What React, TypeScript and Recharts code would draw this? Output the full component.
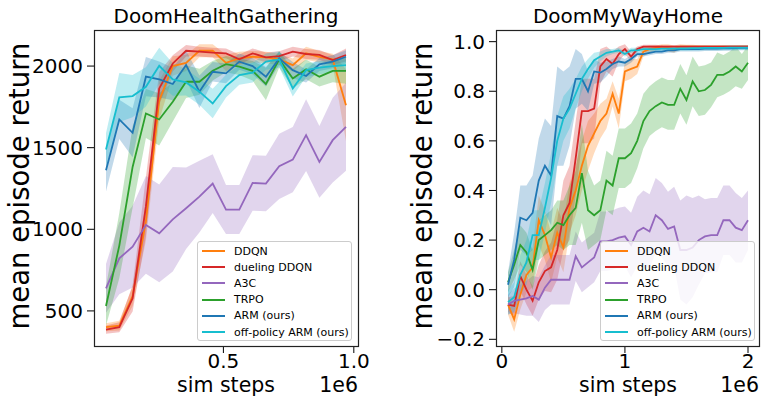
import { Area, ComposedChart, Line, XAxis, YAxis } from 'recharts'

const FONT = '"DejaVu Sans", sans-serif'

const LABELS = ['DDQN', 'dueling DDQN', 'A3C', 'TRPO', 'ARM (ours)', 'off-policy ARM (ours)']
const COLORS = ['#ff7f0e', '#d62728', '#9467bd', '#2ca02c', '#1f77b4', '#17becf']

// DoomHealthGathering (x in 1e6 sim steps)
const HG_X = [0.05, 0.101, 0.152, 0.203, 0.254, 0.306, 0.357, 0.408, 0.459, 0.51, 0.561, 0.612, 0.663, 0.714, 0.766, 0.817, 0.868, 0.919, 0.97]
const HG_DDQN = [400, 410, 590, 1050, 1790, 2000, 2020, 2094, 2094, 2020, 2047, 2057, 2053, 2041, 2006, 2078, 2057, 2041, 1760]
const HG_DUEL = [385, 400, 577, 1140, 1863, 2016, 2094, 2088, 2082, 2078, 2041, 2078, 2053, 2061, 2088, 2074, 2068, 2037, 2068]
const HG_A3C = [638, 822, 894, 1027, 975, 1061, 1129, 1200, 1280, 1121, 1121, 1284, 1280, 1386, 1427, 1577, 1413, 1546, 1628]
const HG_TRPO = [530, 900, 1382, 1710, 1673, 1781, 1904, 1904, 1971, 2012, 1996, 1971, 1890, 2041, 1924, 1980, 1935, 1971, 1971]
const HG_ARM = [1362, 1673, 1591, 1935, 1918, 1890, 2006, 1843, 1965, 1955, 2027, 2000, 1935, 2047, 1975, 1939, 2010, 2027, 2057]
const HG_OFF = [1489, 1808, 1816, 1873, 2002, 1918, 1900, 1843, 1771, 1877, 1945, 1960, 2027, 2041, 1863, 1975, 1990, 2000, 2006]

const HG_DDQN_SD = [25, 30, 60, 120, 120, 60, 50, 40, 40, 50, 40, 35, 35, 35, 40, 40, 35, 35, 220]
const HG_DUEL_SD = [25, 30, 80, 180, 100, 50, 35, 30, 30, 30, 30, 30, 30, 30, 30, 30, 30, 30, 40]
const HG_A3C_SD = [150, 220, 250, 300, 300, 320, 250, 220, 180, 150, 150, 170, 170, 200, 200, 220, 220, 260, 270]
const HG_TRPO_SD = [120, 200, 250, 150, 160, 120, 100, 80, 60, 50, 50, 60, 100, 50, 60, 60, 60, 70, 80]
const HG_ARM_SD = [130, 120, 150, 120, 110, 100, 90, 100, 60, 60, 50, 50, 60, 40, 50, 40, 40, 40, 40]
const HG_OFF_SD = [100, 150, 130, 120, 110, 100, 80, 80, 90, 70, 60, 60, 50, 50, 50, 40, 40, 40, 40]

// DoomMyWayHome
const MW_X = [0.05, 0.1, 0.15, 0.2, 0.25, 0.3, 0.35, 0.4, 0.45, 0.5, 0.55, 0.6, 0.65, 0.7, 0.75, 0.8, 0.85, 0.9, 0.95, 1.0, 1.05, 1.1, 1.15, 1.2, 1.25, 1.3, 1.35, 1.4, 1.45, 1.5, 1.55, 1.6, 1.65, 1.7, 1.75, 1.8, 1.85, 1.9, 1.95, 2.0]
const MW_DDQN = [-0.06, -0.12, -0.02, 0.06, 0.09, 0.28, 0.22, 0.13, 0.23, 0.17, 0.33, 0.4, 0.5, 0.58, 0.63, 0.68, 0.71, 0.79, 0.71, 0.88, 0.89, 0.9, 0.96, 0.97, 0.975, 0.98, 0.975, 0.97, 0.98, 0.98, 0.98, 0.98, 0.98, 0.98, 0.98, 0.98, 0.98, 0.98, 0.98, 0.98]
const MW_DUEL = [-0.06, -0.065, 0.055, 0.0, -0.045, 0.03, 0.075, 0.09, 0.16, 0.3, 0.35, 0.53, 0.72, 0.72, 0.73, 0.9, 0.93, 0.91, 0.95, 0.97, 0.94, 0.97, 0.98, 0.98, 0.98, 0.98, 0.98, 0.98, 0.98, 0.98, 0.98, 0.98, 0.98, 0.98, 0.98, 0.98, 0.98, 0.98, 0.98, 0.98]
const MW_A3C = [-0.06, -0.045, -0.04, -0.035, -0.025, -0.04, 0.008, 0.04, 0.04, 0.04, 0.04, 0.135, 0.09, 0.11, 0.13, 0.195, 0.195, 0.2, 0.21, 0.215, 0.18, 0.235, 0.25, 0.235, 0.3, 0.28, 0.245, 0.255, 0.16, 0.16, 0.17, 0.2, 0.215, 0.22, 0.22, 0.28, 0.28, 0.25, 0.24, 0.28]
const MW_TRPO = [0.03, 0.1, 0.18, 0.15, 0.08, 0.2, 0.22, 0.24, 0.27, 0.26, 0.3, 0.33, 0.47, 0.32, 0.3, 0.32, 0.44, 0.42, 0.53, 0.53, 0.55, 0.6, 0.68, 0.72, 0.74, 0.755, 0.745, 0.745, 0.81, 0.765, 0.84, 0.8, 0.805, 0.826, 0.866, 0.866, 0.88, 0.9, 0.88, 0.915]
const MW_ARM = [0.02, 0.12, 0.29, 0.28, 0.31, 0.44, 0.5, 0.46, 0.7, 0.69, 0.74, 0.85, 0.85, 0.8, 0.88, 0.875, 0.89, 0.91, 0.92, 0.915, 0.93, 0.95, 0.95, 0.955, 0.96, 0.96, 0.965, 0.965, 0.97, 0.97, 0.97, 0.97, 0.972, 0.972, 0.972, 0.973, 0.973, 0.974, 0.975, 0.975]
const MW_OFF = [-0.05, -0.03, 0.06, 0.11, 0.22, 0.22, 0.33, 0.45, 0.6, 0.69, 0.73, 0.79, 0.85, 0.89, 0.925, 0.94, 0.955, 0.96, 0.965, 0.95, 0.965, 0.965, 0.97, 0.97, 0.97, 0.972, 0.972, 0.972, 0.973, 0.973, 0.974, 0.974, 0.975, 0.975, 0.975, 0.975, 0.976, 0.976, 0.976, 0.976]

const MW_DDQN_SD = [0.04, 0.05, 0.06, 0.07, 0.08, 0.1, 0.1, 0.1, 0.1, 0.1, 0.1, 0.1, 0.1, 0.1, 0.08, 0.07, 0.06, 0.05, 0.06, 0.04, 0.04, 0.03, 0.02, 0.015, 0.01, 0.01, 0.015, 0.015, 0.01, 0.008, 0.008, 0.006, 0.006, 0.005, 0.005, 0.005, 0.005, 0.005, 0.005, 0.005]
const MW_DUEL_SD = [0.03, 0.04, 0.06, 0.06, 0.06, 0.07, 0.08, 0.1, 0.12, 0.14, 0.15, 0.15, 0.13, 0.13, 0.12, 0.07, 0.05, 0.05, 0.03, 0.02, 0.02, 0.01, 0.008, 0.008, 0.008, 0.006, 0.006, 0.006, 0.005, 0.005, 0.005, 0.005, 0.005, 0.005, 0.005, 0.005, 0.005, 0.005, 0.005, 0.005]
const MW_A3C_SD = [0.04, 0.05, 0.06, 0.07, 0.08, 0.09, 0.09, 0.1, 0.1, 0.1, 0.1, 0.1, 0.1, 0.1, 0.1, 0.12, 0.12, 0.12, 0.12, 0.12, 0.13, 0.14, 0.15, 0.15, 0.15, 0.15, 0.15, 0.16, 0.2, 0.22, 0.2, 0.18, 0.15, 0.15, 0.15, 0.14, 0.14, 0.14, 0.13, 0.12]
const MW_TRPO_SD = [0.04, 0.06, 0.08, 0.08, 0.08, 0.08, 0.08, 0.08, 0.09, 0.1, 0.12, 0.15, 0.2, 0.16, 0.12, 0.12, 0.12, 0.12, 0.12, 0.12, 0.12, 0.11, 0.11, 0.1, 0.1, 0.1, 0.1, 0.1, 0.1, 0.1, 0.1, 0.1, 0.1, 0.09, 0.09, 0.08, 0.08, 0.08, 0.07, 0.07]
const MW_ARM_SD = [0.05, 0.11, 0.13, 0.14, 0.15, 0.17, 0.19, 0.2, 0.2, 0.19, 0.16, 0.12, 0.1, 0.08, 0.05, 0.04, 0.03, 0.02, 0.02, 0.015, 0.015, 0.01, 0.01, 0.01, 0.01, 0.01, 0.01, 0.01, 0.01, 0.01, 0.01, 0.01, 0.01, 0.01, 0.01, 0.01, 0.01, 0.01, 0.01, 0.01]
const MW_OFF_SD = [0.05, 0.06, 0.08, 0.09, 0.1, 0.1, 0.1, 0.1, 0.1, 0.09, 0.08, 0.06, 0.05, 0.04, 0.03, 0.02, 0.015, 0.01, 0.01, 0.01, 0.01, 0.01, 0.01, 0.01, 0.01, 0.01, 0.01, 0.01, 0.01, 0.01, 0.01, 0.01, 0.01, 0.01, 0.01, 0.01, 0.01, 0.01, 0.01, 0.01]

const HG_Y_TICKS = [500, 1000, 1500, 2000]
const HG_X_TICKS = [0.5, 1.0]
const MW_Y_TICKS = [-0.2, 0, 0.2, 0.4, 0.6, 0.8, 1.0]
const MW_X_TICKS = [0, 1, 2]

function buildRows(xs: number[], means: number[][], sds: number[][]) {
  return xs.map((x, i) => {
    const row: any = { x }
    means.forEach((m, k) => {
      row['m' + k] = m[i]
      row['b' + k] = [m[i] - sds[k][i], m[i] + sds[k][i]]
    })
    return row
  })
}

const minus = (s: string) => s.replace('-', '\u2212')

function Panel(props: any) {
  const { left, width, yAxisWidth, marginRight, rows, xDomain, xTicks, xFmt, yDomain, yTicks, yFmt } = props
  const tick = { fontSize: 20, fill: '#000', fontFamily: FONT }
  return (
    <div style={{ position: 'absolute', left, top: 0 }}>
      <ComposedChart width={width} height={397} data={rows} margin={{ top: 30, right: marginRight, bottom: 0, left: 0 }}>
        <XAxis
          type="number"
          dataKey="x"
          domain={xDomain}
          allowDataOverflow
          ticks={xTicks}
          tickFormatter={xFmt}
          height={51}
          axisLine={false}
          tickLine={{ stroke: '#000' }}
          tickSize={7}
          tickMargin={1}
          tick={tick}
          interval={0}
        />
        <YAxis
          type="number"
          domain={yDomain}
          allowDataOverflow
          ticks={yTicks}
          tickFormatter={yFmt}
          width={yAxisWidth}
          axisLine={false}
          tickLine={{ stroke: '#000' }}
          tickSize={7}
          tickMargin={4}
          tick={tick}
          interval={0}
        />
        {COLORS.map((c, k) => (
          <Area
            key={'a' + k}
            type="linear"
            dataKey={'b' + k}
            stroke="none"
            fill={c}
            fillOpacity={0.28}
            isAnimationActive={false}
            activeDot={false}
          />
        ))}
        {COLORS.map((c, k) => (
          <Line
            key={'l' + k}
            type="linear"
            dataKey={'m' + k}
            stroke={c}
            strokeWidth={1.8}
            dot={false}
            activeDot={false}
            isAnimationActive={false}
          />
        ))}
      </ComposedChart>
    </div>
  )
}

function LegendBox({ x, y }: { x: number; y: number }) {
  return (
    <div
      style={{
        position: 'absolute',
        left: x,
        top: y,
        width: 155,
        height: 100,
        boxSizing: 'border-box',
        border: '1px solid #cccccc',
        borderRadius: 3,
        background: 'rgba(255,255,255,0.8)',
        fontFamily: FONT,
        fontSize: 11,
        paddingTop: 1,
      }}
    >
      {LABELS.map((label, k) => (
        <div key={label} style={{ height: 16.2, display: 'flex', alignItems: 'center', whiteSpace: 'nowrap' }}>
          <span style={{ display: 'inline-block', width: 23, height: 2, background: COLORS[k], marginLeft: 4, marginRight: 9 }} />
          <span>{label}</span>
        </div>
      ))}
    </div>
  )
}

export default function App() {
  const hgRows = buildRows(HG_X, [HG_DDQN, HG_DUEL, HG_A3C, HG_TRPO, HG_ARM, HG_OFF], [HG_DDQN_SD, HG_DUEL_SD, HG_A3C_SD, HG_TRPO_SD, HG_ARM_SD, HG_OFF_SD])
  const mwRows = buildRows(MW_X, [MW_DDQN, MW_DUEL, MW_A3C, MW_TRPO, MW_ARM, MW_OFF], [MW_DDQN_SD, MW_DUEL_SD, MW_A3C_SD, MW_TRPO_SD, MW_ARM_SD, MW_OFF_SD])
  const textStyle = { fontFamily: FONT, fill: '#000' }
  return (
    <div style={{ position: 'fixed', left: 0, top: 0, width: 761, height: 397, background: '#fff', overflow: 'hidden' }}>
      <Panel
        left={0}
        width={380}
        yAxisWidth={94}
        marginRight={22}
        rows={hgRows}
        xDomain={[0.004, 1.016]}
        xTicks={HG_X_TICKS}
        xFmt={(v: number) => v.toFixed(1)}
        yDomain={[285, 2221]}
        yTicks={HG_Y_TICKS}
        yFmt={(v: number) => String(v)}
      />
      <Panel
        left={380}
        width={381}
        yAxisWidth={116}
        marginRight={1}
        rows={mwRows}
        xDomain={[-0.0475, 2.0975]}
        xTicks={MW_X_TICKS}
        xFmt={(v: number) => String(v)}
        yDomain={[-0.227, 1.047]}
        yTicks={MW_Y_TICKS}
        yFmt={(v: number) => minus(v.toFixed(1))}
      />
      <svg width={761} height={397} style={{ position: 'absolute', left: 0, top: 0, pointerEvents: 'none' }}>
        <rect x={94.5} y={30.5} width={264} height={316} fill="none" stroke="#222" strokeWidth={1.2} />
        <rect x={496.5} y={30.5} width={263} height={316} fill="none" stroke="#222" strokeWidth={1.2} />
        <text x={226} y={23} textAnchor="middle" fontSize={20} style={textStyle}>DoomHealthGathering</text>
        <text x={628} y={23} textAnchor="middle" fontSize={20} style={textStyle}>DoomMyWayHome</text>
        <text x={226} y={392} textAnchor="middle" fontSize={20.5} style={textStyle}>sim steps</text>
        <text x={628} y={392} textAnchor="middle" fontSize={20.5} style={textStyle}>sim steps</text>
        <text x={358} y={392} textAnchor="end" fontSize={20.5} style={textStyle}>1e6</text>
        <text x={759} y={392} textAnchor="end" fontSize={20.5} style={textStyle}>1e6</text>
        <text x={29} y={186} textAnchor="middle" fontSize={27.5} transform="rotate(-90 29 186)" style={textStyle}>mean episode return</text>
        <text x={432} y={186} textAnchor="middle" fontSize={27.5} transform="rotate(-90 432 186)" style={textStyle}>mean episode return</text>
      </svg>
      <LegendBox x={197} y={241} />
      <LegendBox x={600} y={241} />
    </div>
  )
}
